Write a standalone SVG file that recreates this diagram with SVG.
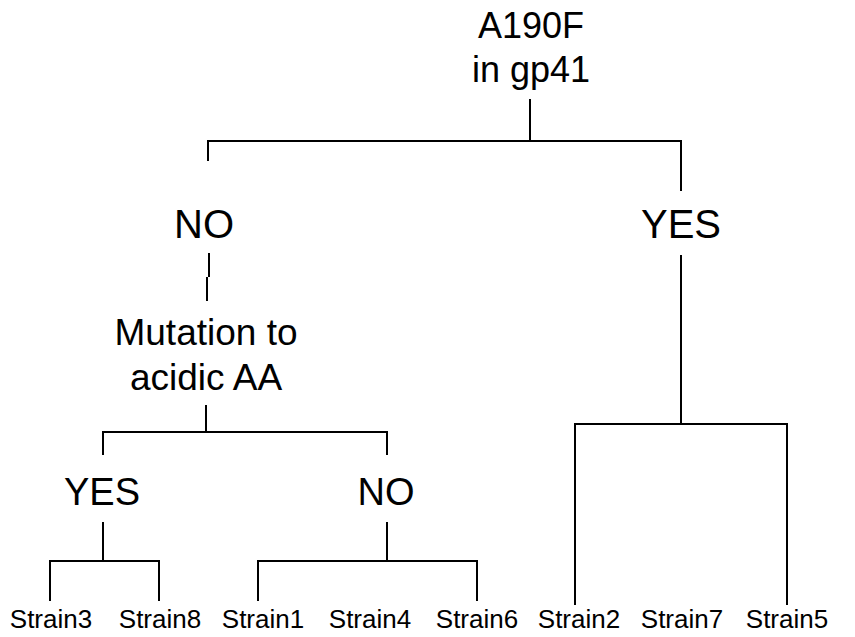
<svg xmlns="http://www.w3.org/2000/svg" width="855" height="637" viewBox="0 0 855 637">
  <style>
    text { font-family: "Liberation Sans", Arial, sans-serif; fill: #000; text-anchor: middle; }
    .top { font-size: 40px; }
    .big { font-size: 38px; }
    .mid { font-size: 36px; }
    .q { font-size: 37px; }
    .leaf { font-size: 26px; }
    .edge { stroke: #000; stroke-width: 2; fill: none; stroke-linecap: square; }
  </style>
  <rect width="855" height="637" fill="#fff"/>

  <g id="connectors">
    <!-- root split -->
    <path class="edge" d="M530,100 V141 M208,160 V141 H681 V190"/>
    <!-- NO branch stem (two offset pieces) -->
    <path class="edge" d="M209,254 V276 M207,278 V300"/>
    <!-- acidic AA split -->
    <path class="edge" d="M206,406 V432 M103,454 V432 H387 V454"/>
    <!-- YES branch down to its strains -->
    <path class="edge" d="M681,256 V424 M575,604 V424 H787 V604"/>
    <!-- lower YES -->
    <path class="edge" d="M103,523 V561 M50,600 V561 H159 V600"/>
    <!-- lower NO -->
    <path class="edge" d="M387,523 V561 M258,600 V561 H477 V600"/>
  </g>

  <g id="root">
    <text class="mid" x="531" y="38">A190F</text>
    <text class="mid" x="531" y="82">in gp41</text>
  </g>
  <g id="no-top"><text class="top" x="204" y="238">NO</text></g>
  <g id="yes-top"><text class="top" x="681" y="238">YES</text></g>
  <g id="acidic">
    <text class="q" x="206" y="345">Mutation to</text>
    <text class="q" x="206" y="390">acidic AA</text>
  </g>
  <g id="yes-low"><text class="big" x="102" y="505">YES</text></g>
  <g id="no-low"><text class="big" x="386" y="505">NO</text></g>

  <g id="strain3"><text class="leaf" x="51" y="628">Strain3</text></g>
  <g id="strain8"><text class="leaf" x="160" y="628">Strain8</text></g>
  <g id="strain1"><text class="leaf" x="263" y="628">Strain1</text></g>
  <g id="strain4"><text class="leaf" x="370" y="628">Strain4</text></g>
  <g id="strain6"><text class="leaf" x="477" y="628">Strain6</text></g>
  <g id="strain2"><text class="leaf" x="579" y="628">Strain2</text></g>
  <g id="strain7"><text class="leaf" x="682" y="628">Strain7</text></g>
  <g id="strain5"><text class="leaf" x="787" y="628">Strain5</text></g>
</svg>
